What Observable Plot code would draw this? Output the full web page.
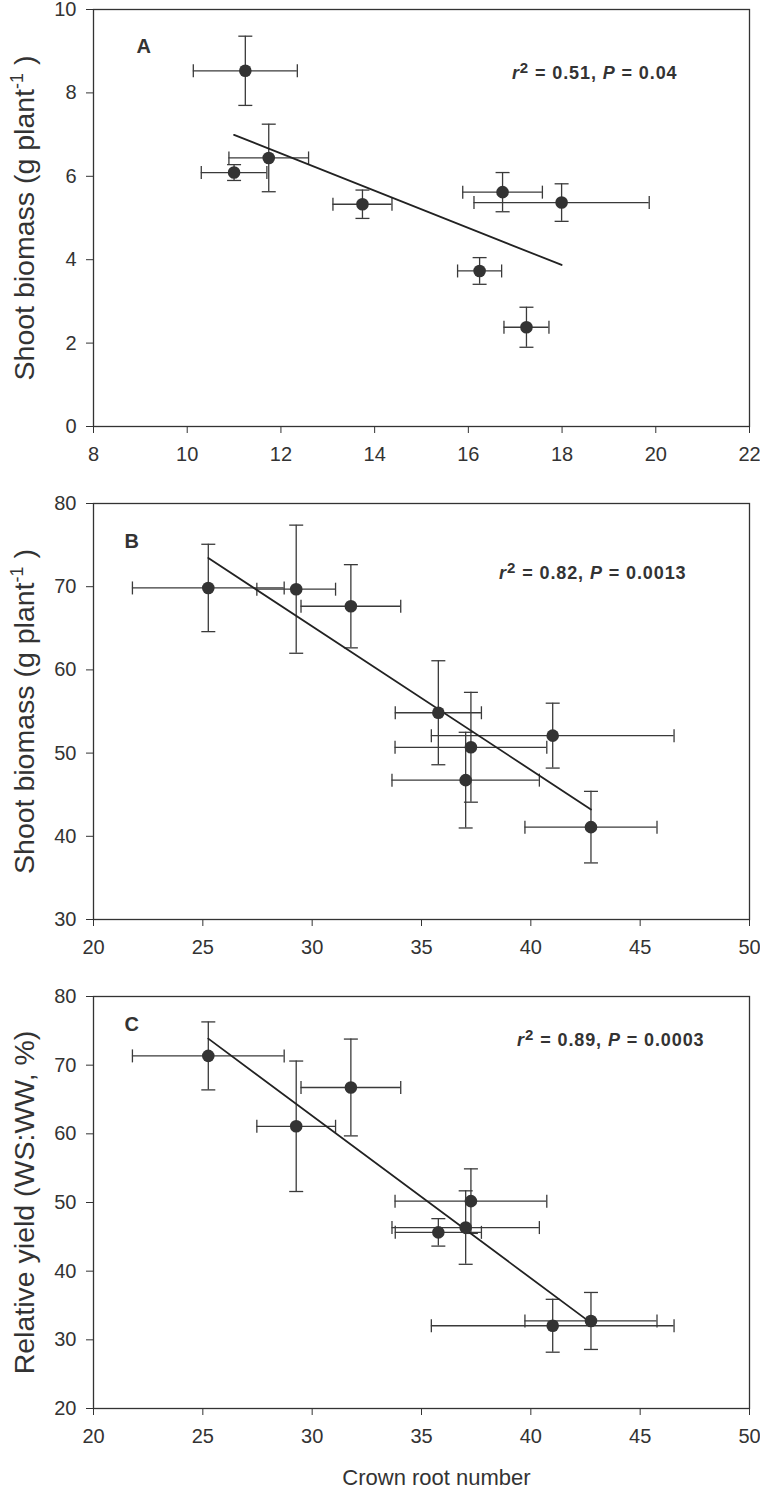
<!DOCTYPE html>
<html><head><meta charset="utf-8">
<script src="https://cdn.jsdelivr.net/npm/d3@7"></script>
<script src="https://cdn.jsdelivr.net/npm/@observablehq/plot@0.6"></script>
<style>
body{margin:0;background:#fff;}
#chart svg{display:block;}
</style></head><body><div id="chart"></div>
<script>
// ---- Panel A: crown root number vs shoot biomass ----
const rootA      = [11.24, 11.74, 11.00, 13.74, 16.73, 17.99, 16.24, 17.24];
const rootAErr   = [1.11, 0.85, 0.70, 0.63, 0.85, 1.87, 0.47, 0.48];
const shootA     = [8.53, 6.44, 6.09, 5.33, 5.62, 5.37, 3.73, 2.38];
const shootAErr  = [0.83, 0.81, 0.19, 0.34, 0.47, 0.45, 0.32, 0.48];

// ---- Panels B and C share crown root number ----
const rootBC     = [25.25, 29.27, 31.77, 35.77, 37.26, 37.02, 41.00, 42.75];
const rootBCErr  = [3.47, 1.80, 2.28, 1.97, 3.47, 3.37, 5.55, 3.02];
const shootB     = [69.85, 69.7, 67.65, 54.85, 50.7, 46.75, 52.1, 41.1];
const shootBErr  = [5.25, 7.7, 5.0, 6.25, 6.6, 5.75, 3.9, 4.3];
const yieldC     = [71.35, 61.1, 66.75, 45.65, 50.2, 46.35, 32.05, 32.75];
const yieldCErr  = [4.95, 9.5, 7.05, 2.0, 4.7, 5.35, 3.85, 4.15];

// ---- Axes / text ----
const xTicksA = [8, 10, 12, 14, 16, 18, 20, 22];
const yTicksA = [0, 2, 4, 6, 8, 10];
const xTicksBC = [20, 25, 30, 35, 40, 45, 50];
const yTicksB = [30, 40, 50, 60, 70, 80];
const yTicksC = [20, 30, 40, 50, 60, 70, 80];
const labels = ["A", "B", "C"];
const stats = ["r2 = 0.51, P = 0.04", "r2 = 0.82, P = 0.0013", "r2 = 0.89, P = 0.0003"];
const yTitles = ["Shoot biomass (g plant-1 )", "Shoot biomass (g plant-1 )", "Relative yield (WS:WW, %)"];
const xTitle = "Crown root number";

const rows = (xs, xe, ys, ye) => xs.map((x, i) => ({x, xe: xe[i], y: ys[i], ye: ye[i]}));

const capH = {draw(ctx, size) { const r = Math.sqrt(size / Math.PI); ctx.moveTo(-r, 0); ctx.lineTo(r, 0); }};
const capV = {draw(ctx, size) { const r = Math.sqrt(size / Math.PI); ctx.moveTo(0, -r); ctx.lineTo(0, r); }};

const INK = "#333";
const FONT = "'Liberation Sans', Arial, Helvetica, sans-serif";

function panel(o) {
  const data = o.data;
  const eb = {stroke: "#3a3a3a", strokeWidth: 1.3};
  const marks = [
    Plot.frame({stroke: INK, strokeWidth: 1.3}),
    Plot.ruleY(data, {y: "y", x1: d => d.x - d.xe, x2: d => d.x + d.xe, ...eb}),
    Plot.ruleX(data, {x: "x", y1: d => d.y - d.ye, y2: d => d.y + d.ye, ...eb}),
    Plot.dot(data, {x: d => d.x - d.xe, y: "y", symbol: capV, r: 6.5, ...eb}),
    Plot.dot(data, {x: d => d.x + d.xe, y: "y", symbol: capV, r: 6.5, ...eb}),
    Plot.dot(data, {x: "x", y: d => d.y - d.ye, symbol: capH, r: 7, ...eb}),
    Plot.dot(data, {x: "x", y: d => d.y + d.ye, symbol: capH, r: 7, ...eb}),
    Plot.linearRegressionY(data, {x: "x", y: "y", ci: 0, stroke: "#222", strokeWidth: 1.8}),
    Plot.dot(data, {x: "x", y: "y", r: 6.3, fill: INK, stroke: "none"}),
    Plot.text([o.letter], {frameAnchor: "top-left", dx: o.letterDx, dy: o.letterDy, fontWeight: "bold", fontSize: 20, fill: INK}),
    Plot.text([o.stat], {frameAnchor: "top-right", dx: o.statDx, dy: o.statDy, fontWeight: "bold", fontSize: 18, fill: INK, className: "stat"}),
    Plot.text([o.yTitle], {frameAnchor: "left", rotate: -90, textAnchor: "middle", lineAnchor: "middle", dx: -69, fontSize: 28.5, fill: INK, className: "ytitle"})
  ];
  if (o.xTitle) marks.push(Plot.text([o.xTitle], {frameAnchor: "bottom", textAnchor: "middle", lineAnchor: "middle", dx: 15, dy: 69, fontSize: 22, fill: INK}));
  const svg = Plot.plot({
    width: 760, height: o.height,
    marginLeft: 93, marginRight: 11, marginTop: o.mt, marginBottom: o.mb,
    style: {fontFamily: FONT, fontSize: "20px", color: INK, background: "#fff", overflow: "visible"},
    x: {domain: o.xDomain, ticks: o.xTicks, tickSize: 7, tickPadding: 13, label: null},
    y: {domain: o.yDomain, ticks: o.yTicks, tickSize: 7, tickPadding: 10, label: null},
    marks
  });
  // superscripts / italics as real text
  d3.select(svg).selectAll("text").each(function() {
    const t = this.textContent;
    const s = d3.select(this);
    let m = t.match(/^r2 = (.*), P = (.*)$/);
    if (m) {
      s.text(null).style("letter-spacing", "0.9px");
      s.append("tspan").attr("font-style", "italic").text("r");
      s.append("tspan").attr("dy", -6).attr("font-size", 15).text("2");
      s.append("tspan").attr("dy", 6).text(` = ${m[1]}, `);
      s.append("tspan").attr("font-style", "italic").text("P");
      s.append("tspan").text(` = ${m[2]}`);
      return;
    }
    m = t.match(/^(.*plant)-1( \))$/);
    if (m) {
      s.text(null);
      s.append("tspan").text(m[1]);
      s.append("tspan").attr("dy", -11).attr("font-size", 18).text("-1");
      s.append("tspan").attr("dy", 11).text(m[2]);
    }
  });
  return svg;
}

const chart = document.getElementById("chart");
chart.append(panel({
  data: rows(rootA, rootAErr, shootA, shootAErr), height: 480, mt: 9, mb: 54,
  xDomain: [8, 22], xTicks: xTicksA, yDomain: [0, 10], yTicks: yTicksA,
  letter: labels[0], letterDx: 43, letterDy: 29, stat: stats[0], statDx: -72, statDy: 57,
  yTitle: yTitles[0]
}));
chart.append(panel({
  data: rows(rootBC, rootBCErr, shootB, shootBErr), height: 480, mt: 23, mb: 41,
  xDomain: [20, 50], xTicks: xTicksBC, yDomain: [30, 80], yTicks: yTicksB,
  letter: labels[1], letterDx: 31, letterDy: 30, stat: stats[1], statDx: -63, statDy: 63,
  yTitle: yTitles[1]
}));
chart.append(panel({
  data: rows(rootBC, rootBCErr, yieldC, yieldCErr), height: 530, mt: 36, mb: 82,
  xDomain: [20, 50], xTicks: xTicksBC, yDomain: [20, 80], yTicks: yTicksC,
  letter: labels[2], letterDx: 31, letterDy: 20, stat: stats[2], statDx: -45, statDy: 37,
  yTitle: yTitles[2], xTitle
}));
</script></body></html>
